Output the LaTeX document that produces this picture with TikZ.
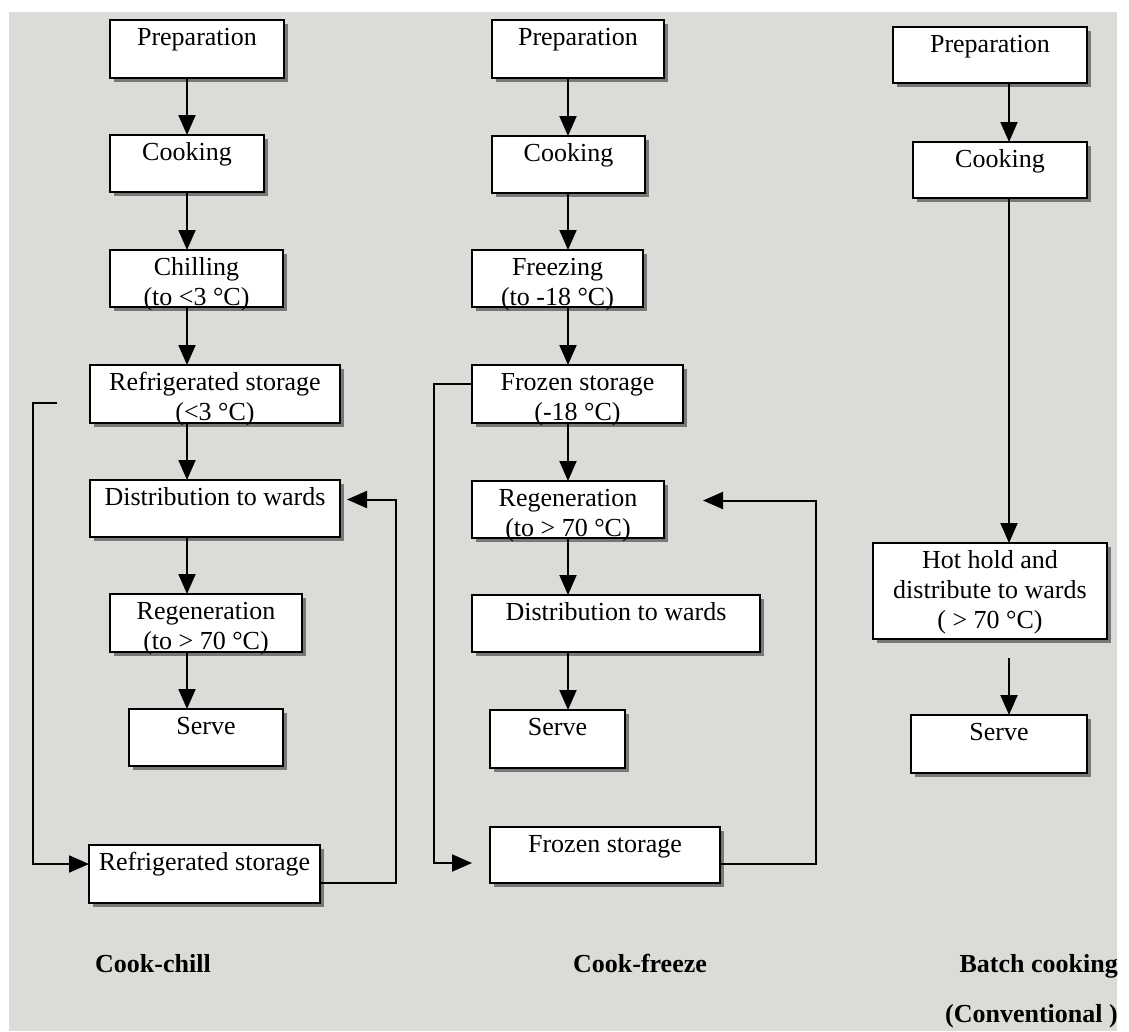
\documentclass[tikz,border=0pt]{standalone}
\usepackage{fontspec}
\setmainfont{Liberation Serif}
\usetikzlibrary{arrows.meta,shadows}

\definecolor{panel}{RGB}{219,219,215}
\definecolor{shade}{RGB}{120,120,120}

% A process box: name, left, top, right, bottom, text (top-aligned lines)
\newcommand{\flowbox}[6]{%
  \node[stepbox, anchor=north west] (#1) at (#2,#3)
    {\parbox[t][\dimexpr #5pt-#3pt\relax][t]{\dimexpr #4pt-#2pt\relax}%
      {\centering\rule{0pt}{25pt}#6}};}

\begin{document}
\begin{tikzpicture}[x=1pt,y=-1pt,
  stepbox/.style={draw, line width=2.4pt, fill=white, inner sep=0pt, outer sep=0pt,
    font=\fontsize{26}{30}\selectfont,
    drop shadow={shadow xshift=4pt, shadow yshift=-4pt, fill=shade, opacity=1}},
  flow/.style={line width=2pt, -{Triangle[width=17pt,length=20pt]}},
  caption/.style={font=\fontsize{26}{30}\selectfont\bfseries, inner sep=0pt}]

% page and grey panel
\useasboundingbox (0,0) rectangle (1129,1031);
\fill[white] (0,0) rectangle (1129,1031);
\fill[panel] (9,12) rectangle (1117,1031);

% column axes
\coordinate (xa) at (187,0);
\coordinate (xb) at (568,0);
\coordinate (xc) at (1009,0);

% ---- cook-chill ----
\flowbox{p1}{110}{20}{284}{78}{Preparation}
\flowbox{c1}{110}{135}{264}{192}{Cooking}
\flowbox{ch}{110}{250}{283}{307}{Chilling\\(to <3 °C)}
\flowbox{rs1}{90}{365}{340}{423}{Refrigerated storage\\(<3 °C)}
\flowbox{d1}{90}{480}{340}{537}{Distribution to wards}
\flowbox{rg1}{110}{594}{302}{652}{Regeneration\\(to > 70 °C)}
\flowbox{sv1}{129}{709}{283}{766}{Serve}
\flowbox{rb}{89}{845}{320}{903}{Refrigerated storage}

\draw[flow] (p1.south -| xa) -- (c1.north -| xa);
\draw[flow] (c1.south -| xa) -- (ch.north -| xa);
\draw[flow] (ch.south -| xa) -- (rs1.north -| xa);
\draw[flow] (rs1.south -| xa) -- (d1.north -| xa);
\draw[flow] (d1.south -| xa) -- (rg1.north -| xa);
\draw[flow] (rg1.south -| xa) -- (sv1.north -| xa);

\coordinate (rs1out) at ([yshift=-9pt]rs1.west);
\coordinate (rbin) at ([yshift=10pt]rb.west);
\coordinate (la) at (33,0);
\draw[flow, shorten <=33pt] (rs1out) -| (la |- rbin) -- (rbin);

\coordinate (rbout) at ([yshift=-9pt]rb.east);
\coordinate (d1in) at ([yshift=9pt]d1.east);
\coordinate (ra) at (396,0);
\draw[flow, shorten >=7pt] (rbout) -| (ra |- d1in) -- (d1in);

\node[caption, anchor=base] (capa) at (153,972) {Cook-chill};

% ---- cook-freeze ----
\flowbox{p2}{492}{20}{664}{78}{Preparation}
\flowbox{c2}{492}{136}{645}{193}{Cooking}
\flowbox{fz}{472}{250}{643}{307}{Freezing\\(to -18 °C)}
\flowbox{fs}{472}{365}{683}{423}{Frozen storage\\(-18 °C)}
\flowbox{r2}{472}{481}{664}{538}{Regeneration\\(to > 70 °C)}
\flowbox{d2}{472}{595}{760}{652}{Distribution to wards}
\flowbox{sv2}{490}{710}{625}{768}{Serve}
\flowbox{fb}{490}{827}{720}{883}{Frozen storage}

\draw[flow] (p2.south -| xb) -- (c2.north -| xb);
\draw[flow] (c2.south -| xb) -- (fz.north -| xb);
\draw[flow] (fz.south -| xb) -- (fs.north -| xb);
\draw[flow] (fs.south -| xb) -- (r2.north -| xb);
\draw[flow] (r2.south -| xb) -- (d2.north -| xb);
\draw[flow] (d2.south -| xb) -- (sv2.north -| xb);

\coordinate (fsout) at ([yshift=10pt]fs.west);
\coordinate (fbin) at ([yshift=-8pt]fb.west);
\coordinate (lb) at (434,0);
\draw[flow, shorten >=18pt] (fsout) -| (lb |- fbin) -- (fbin);

\coordinate (fbout) at ([yshift=-9pt]fb.east);
\coordinate (r2in) at ([yshift=9pt]r2.east);
\coordinate (rb2) at (816,0);
\draw[flow, shorten >=39pt] (fbout) -| (rb2 |- r2in) -- (r2in);

\node[caption, anchor=base] (capb) at (640,972) {Cook-freeze};

% ---- batch cooking ----
\flowbox{p3}{893}{27}{1087}{83}{Preparation}
\flowbox{c3}{913}{142}{1087}{198}{Cooking}
\flowbox{hh}{873}{543}{1107}{639}{Hot hold and\\distribute to wards\\( > 70 °C)}
\flowbox{s3}{911}{715}{1087}{773}{Serve}

\draw[flow] (p3.south -| xc) -- (c3.north -| xc);
\draw[flow] (c3.south -| xc) -- (hh.north -| xc);
\draw[flow, shorten <=19pt] (hh.south -| xc) -- (s3.north -| xc);

\node[caption, anchor=base east] (capc) at (1118,972) {Batch cooking};
\node[caption, anchor=base east] (capd) at (1118,1022) {(Conventional )};

\end{tikzpicture}
\end{document}
